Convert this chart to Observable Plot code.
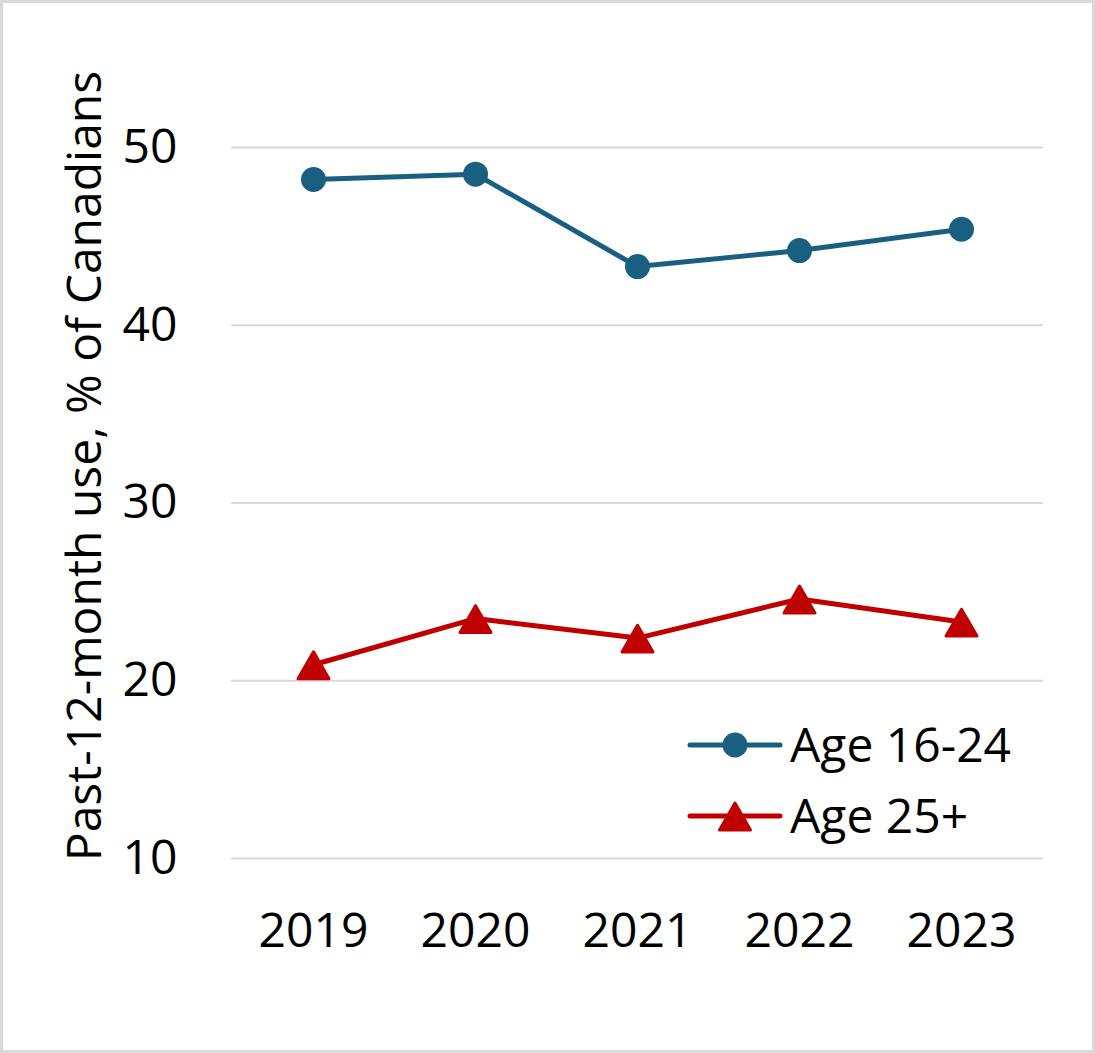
<!DOCTYPE html>
<html><head><meta charset="utf-8">
<script src="https://cdn.jsdelivr.net/npm/d3@7"></script>
<script src="https://cdn.jsdelivr.net/npm/@observablehq/plot@0.6"></script>
<style>
html,body{margin:0;padding:0;background:#fff;}
#wrap{position:relative;width:1095px;height:1053px;font-family:"Open Sans",sans-serif;overflow:hidden;}
#border{position:absolute;left:0;top:0;width:1095px;height:1053px;box-sizing:border-box;border:3px solid #d9d9d9;pointer-events:none;}
#legend{position:absolute;left:680px;top:700px;}
</style></head>
<body>
<div id="wrap"><div id="chart"></div><div id="legend"></div><div id="border"></div></div>
<script>
const years = ["2019","2020","2021","2022","2023"];
const age1624 = [48.2, 48.5, 43.3, 44.2, 45.4];
const age25plus = [20.9, 23.5, 22.4, 24.6, 23.3];
const seriesNames = ["Age 16-24", "Age 25+"];
const seriesColors = ["#195f80", "#c00000"];
const yTicks = [10, 20, 30, 40, 50];
const yLabel = "Past-12-month use, % of Canadians";

const data = years.flatMap((yr, i) => [
  {year: yr, value: age1624[i], series: seriesNames[0]},
  {year: yr, value: age25plus[i], series: seriesNames[1]}
]);

const font = "'Open Sans', sans-serif";
const chart = Plot.plot({
  width: 1095, height: 1053,
  marginLeft: 231, marginRight: 52, marginTop: 147, marginBottom: 195,
  style: {fontFamily: font, fontSize: "48px", color: "#000", background: "transparent"},
  x: {type: "point", domain: years, padding: 0.5, label: null},
  y: {domain: [10, 50], ticks: yTicks, label: null},
  color: {domain: seriesNames, range: seriesColors},
  marks: [
    Plot.gridY(yTicks, {stroke: "#d9d9d9", strokeOpacity: 1, strokeWidth: 2}),
    Plot.axisY(yTicks, {tickSize: 0, tickPadding: 54, fontSize: 48, label: null}),
    Plot.axisX({tickSize: 0, tickPadding: 54, fontSize: 48, label: null}),
    Plot.line(data, {x: "year", y: "value", stroke: "series", strokeWidth: 5}),
    Plot.dot(data.filter(d => d.series === seriesNames[0]), {x: "year", y: "value", r: 12.5, fill: seriesColors[0], symbol: "circle"}),
    Plot.dot(data.filter(d => d.series === seriesNames[1]), {x: "year", y: "value", r: 11.5, fill: seriesColors[1], stroke: seriesColors[1], strokeWidth: 3, strokeLinejoin: "round", symbol: "triangle", dy: 5}),
    Plot.text([yLabel], {text: d => d, frameAnchor: "left", rotate: -90, dx: -146, dy: -37, fontSize: 48, textAnchor: "middle", lineAnchor: "middle", fill: "#000"})
  ]
});
document.getElementById("chart").appendChild(chart);

// Legend
const ns = "http://www.w3.org/2000/svg";
const lg = document.createElementNS(ns, "svg");
lg.setAttribute("width", 400); lg.setAttribute("height", 170);
const rowY = [45, 116];
seriesNames.forEach((name, i) => {
  const y = rowY[i];
  const ln = document.createElementNS(ns, "line");
  ln.setAttribute("x1", 10); ln.setAttribute("x2", 100);
  ln.setAttribute("y1", y); ln.setAttribute("y2", y);
  ln.setAttribute("stroke", seriesColors[i]); ln.setAttribute("stroke-width", 5);
  ln.setAttribute("stroke-linecap", "round");
  lg.appendChild(ln);
  let mk;
  if (i === 0) {
    mk = document.createElementNS(ns, "circle");
    mk.setAttribute("cx", 55); mk.setAttribute("cy", y); mk.setAttribute("r", 12.5);
  } else {
    mk = document.createElementNS(ns, "path");
    const sym = d3.symbol(d3.symbolTriangle, Math.PI * 11.5 * 11.5)();
    mk.setAttribute("d", sym);
    mk.setAttribute("transform", `translate(55,${y + 5})`);
    mk.setAttribute("stroke", seriesColors[i]); mk.setAttribute("stroke-width", 3);
    mk.setAttribute("stroke-linejoin", "round");
  }
  mk.setAttribute("fill", seriesColors[i]);
  lg.appendChild(mk);
  const t = document.createElementNS(ns, "text");
  t.setAttribute("x", 110); t.setAttribute("y", y + 17);
  t.setAttribute("font-family", font); t.setAttribute("font-size", 48);
  t.setAttribute("fill", "#000");
  t.textContent = name;
  lg.appendChild(t);
});
document.getElementById("legend").appendChild(lg);
</script>
</body></html>
